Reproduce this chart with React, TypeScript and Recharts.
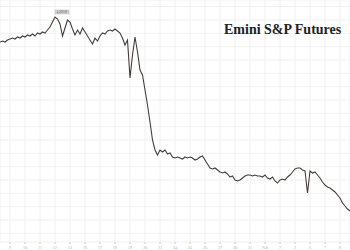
import { LineChart, Line, XAxis, YAxis, CartesianGrid } from 'recharts';

// Emini S&P futures (one point every ~2.5px)
const prices = [
  4194, 4197, 4194, 4200, 4203, 4206, 4203, 4209, 4206, 4212,
  4209, 4215, 4212, 4218, 4212, 4221, 4218, 4224, 4221, 4230,
  4239, 4254, 4269, 4263, 4248, 4212, 4236, 4260, 4254, 4233,
  4215, 4230, 4218, 4236, 4224, 4212, 4200, 4188, 4206, 4197,
  4212, 4221, 4218, 4227, 4230, 4227, 4233, 4227, 4221, 4206,
  4185, 4200, 4086, 4155, 4209, 4164, 4110, 4095, 4050, 4005,
  3954, 3900, 3870, 3855, 3870, 3864, 3870, 3858, 3861, 3849,
  3846, 3849, 3846, 3843, 3849, 3846, 3849, 3846, 3840, 3843,
  3849, 3852, 3840, 3828, 3816, 3813, 3816, 3810, 3804, 3801,
  3804, 3798, 3789, 3792, 3780, 3777, 3780, 3786, 3792, 3795,
  3795, 3792, 3795, 3792, 3792, 3789, 3795, 3786, 3783, 3789,
  3777, 3771, 3780, 3783, 3780, 3789, 3795, 3804, 3813, 3816,
  3816, 3810, 3807, 3741, 3807, 3801, 3804, 3795, 3786, 3774,
  3765, 3759, 3756, 3750, 3744, 3735, 3726, 3711, 3702, 3693,
  3687,
];

const tickIdx = [4, 10, 16, 22, 28, 34, 40, 46, 52, 58, 64, 70, 76, 82, 88, 94, 100, 106, 112, 118, 124, 130, 136];
const tickLabels = ['9', '10', '11', '12', '13', '16', '17', '18', '19', '20', '23', '24', '25', '26', '27', '30', '31', 'Feb', '2', '3', '6', '7', '8'];
const yTicks = [4300, 4260, 4220, 4180, 4140, 4100, 4060, 4020, 3980, 3940, 3900, 3860, 3820, 3780, 3740, 3700, 3660, 3620];

const peakIdx = 22;

const data = prices.map((p, i) => ({ i, price: p, tag: i === peakIdx ? p : null }));

const PeakTag = (props: any) => {
  const { cx, cy, value, index } = props;
  if (cx == null || value == null) return <g key={index} />;
  return (
    <g key={index}>
      <rect x={cx} y={cy - 7} width={14} height={4} fill="#d4d4d4" stroke="#bbb" strokeWidth={0.5} />
      <text x={cx + 7} y={cy - 4} fontSize={3} textAnchor="middle" fill="#555">4,269.00</text>
    </g>
  );
};

export default function App() {
  return (
    <div style={{ position: 'absolute', left: 0, top: 0, width: 350, height: 250, background: '#fff' }}>
      <LineChart width={350} height={250} data={data} margin={{ top: 0, right: 0, left: 0, bottom: 0 }}>
        <CartesianGrid stroke="#f0f0f0" strokeWidth={1} />
        <XAxis
          dataKey="i"
          type="number"
          domain={[0, 140]}
          ticks={tickIdx}
          interval={0}
          tickFormatter={(v) => tickLabels[tickIdx.indexOf(v)] ?? ''}
          height={8}
          axisLine={false}
          tickLine={{ stroke: '#ccc' }}
          tickSize={2}
          tick={{ fontSize: 4, fill: '#aaa' }}
        />
        <YAxis hide domain={[3594, 4320]} ticks={yTicks} interval={0} />
        <Line
          type="linear"
          dataKey="price"
          stroke="#463d3a"
          strokeWidth={1.1}
          dot={false}
          activeDot={false}
          isAnimationActive={false}
        />
        <Line
          type="linear"
          dataKey="tag"
          stroke="none"
          dot={PeakTag}
          activeDot={false}
          isAnimationActive={false}
        />
      </LineChart>
      <div
        style={{
          position: 'absolute',
          left: 224,
          top: 22,
          fontFamily: '"Liberation Serif", serif',
          fontWeight: 'bold',
          fontSize: 14,
          color: '#222',
          whiteSpace: 'nowrap',
        }}
      >
        Emini S&amp;P Futures
      </div>
    </div>
  );
}
